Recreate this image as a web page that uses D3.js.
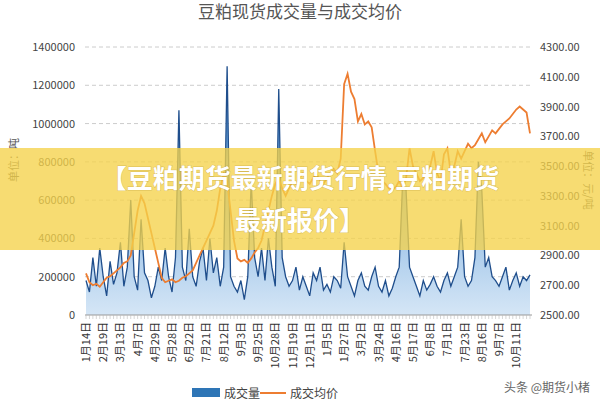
<!DOCTYPE html><html><head><meta charset="utf-8"><script src="https://cdn.jsdelivr.net/npm/d3@7/dist/d3.min.js"></script>
<style>body{margin:0;background:#fff}</style></head><body><svg id="c" width="600" height="400"></svg><script>
const dateLabels=["1月14日","2月19日","3月13日","4月7日","4月29日","5月28日","6月22日","7月21日","8月12日","9月3日","9月25日","10月28日","11月19日","12月11日","1月5日","1月27日","3月2日","3月24日","4月16日","5月17日","6月8日","7月1日","7月23日","8月16日","9月7日","10月11日"];
const volume=[180,120,300,150,350,200,100,280,160,220,380,150,250,600,200,130,500,220,180,90,150,250,180,350,200,120,300,1070,250,180,450,200,150,280,350,180,400,220,300,150,250,1300,200,150,120,180,80,200,700,300,200,350,180,400,250,150,1180,300,200,150,180,250,130,200,150,100,220,180,250,130,160,120,200,180,140,380,200,150,100,180,220,150,130,200,250,150,120,180,100,140,200,250,700,650,250,200,150,100,180,130,160,200,150,120,180,220,150,200,250,500,200,150,180,300,800,650,250,300,200,180,150,200,250,130,180,220,150,200,180,210].map(v=>v*1000);
const price=[2780,2720,2700,2710,2690,2720,2750,2760,2780,2800,2820,2850,2860,2900,3050,3200,3300,3250,3150,3050,2950,2850,2750,2720,2730,2740,2720,2730,2750,2760,2780,2800,2850,2900,2950,3000,3050,3100,3200,3350,3450,3400,3200,3000,2880,2860,2870,2850,2880,2920,2950,3000,3100,3200,3300,3380,3420,3350,3300,3350,3400,3380,3420,3450,3400,3380,3420,3450,3400,3380,3420,3450,3480,3450,3550,4050,4120,4000,3950,3800,3850,3780,3800,3760,3600,3450,3400,3380,3350,3340,3360,3400,3350,3420,3620,3500,3450,3400,3420,3450,3500,3600,3450,3400,3580,3620,3450,3500,3600,3550,3600,3650,3620,3640,3680,3720,3660,3700,3740,3720,3750,3780,3800,3820,3850,3880,3900,3880,3860,3720];
const leftTicks=[0,200000,400000,600000,800000,1000000,1200000,1400000];
const rightTicks=[2500,2700,2900,3100,3300,3500,3700,3900,4100,4300];
const svg=d3.select("#c");
const x=d3.scaleLinear().domain([0,volume.length-1]).range([86,530]);
const yL=d3.scaleLinear().domain([0,1400000]).range([315,47]);
const yR=d3.scaleLinear().domain([2500,4300]).range([315,47]);
const F="'Microsoft YaHei','Noto Sans CJK SC',sans-serif";
svg.append("text").attr("x",300).attr("y",18).attr("text-anchor","middle").attr("font-family",F).attr("font-size",17).attr("fill","#555").text("豆粕现货成交量与成交均价");
const g=svg.append("g");
g.selectAll(".gl").data(leftTicks.slice(1)).join("line").attr("x1",85).attr("x2",532).attr("y1",d=>yL(d)).attr("y2",d=>yL(d)).attr("stroke","#ccc").attr("stroke-dasharray","4,3");
g.selectAll(".lt").data(leftTicks).join("text").attr("x",75).attr("y",d=>yL(d)+4).attr("text-anchor","end").attr("font-family",F).attr("font-size",11).attr("fill","#444").text(d=>d);
g.selectAll(".rt").data(rightTicks).join("text").attr("x",540).attr("y",d=>yR(d)+4).attr("font-family",F).attr("font-size",11).attr("fill","#444").text(d=>d.toFixed(2));
const defs=svg.append("defs");const gr=defs.append("linearGradient").attr("id","gb").attr("x1",0).attr("y1",0).attr("x2",0).attr("y2",1);
gr.append("stop").attr("offset","0").attr("stop-color","#3a86d0");gr.append("stop").attr("offset","1").attr("stop-color","#d5e6f6");
g.append("path").datum(volume).attr("d",d3.area().x((d,i)=>x(i)).y0(315).y1(d=>yL(d))).attr("fill","url(#gb)");
g.append("path").datum(volume).attr("d",d3.line().x((d,i)=>x(i)).y(d=>yL(d))).attr("fill","none").attr("stroke","#1f4e8c").attr("stroke-width",1.3);
g.append("path").datum(price).attr("d",d3.line().x((d,i)=>x(i)).y(d=>yR(d))).attr("fill","none").attr("stroke","#ed7d31").attr("stroke-width",1.8);
g.append("line").attr("x1",85).attr("x2",532).attr("y1",315).attr("y2",315).attr("stroke","#999");
g.selectAll(".tk").data(d3.range(volume.length)).join("line").attr("x1",i=>x(i)).attr("x2",i=>x(i)).attr("y1",315).attr("y2",319).attr("stroke","#bbb").attr("stroke-width",0.6);
g.selectAll(".xl").data(dateLabels).join("text").attr("transform",(d,i)=>`translate(${x(i*5)+4},322) rotate(-90)`).attr("text-anchor","end").attr("font-family",F).attr("font-size",11).attr("fill","#333").text(d=>d);
svg.append("text").attr("transform","translate(18,160) rotate(-90)").attr("text-anchor","middle").attr("font-family",F).attr("font-size",11).attr("fill","#555").text("单位：吨");
svg.append("text").attr("transform","translate(584,180) rotate(90)").attr("text-anchor","middle").attr("font-family",F).attr("font-size",11).attr("fill","#555").text("单位：元/吨");
svg.append("rect").attr("x",192).attr("y",388).attr("width",28).attr("height",9).attr("fill","#2e75b6");
svg.append("text").attr("x",224).attr("y",398).attr("font-family",F).attr("font-size",12).attr("fill","#444").text("成交量");
svg.append("line").attr("x1",260).attr("x2",286).attr("y1",393).attr("y2",393).attr("stroke","#ed7d31").attr("stroke-width",2);
svg.append("text").attr("x",290).attr("y",398).attr("font-family",F).attr("font-size",12).attr("fill","#444").text("成交均价");
svg.append("text").attr("x",590).attr("y",392).attr("text-anchor","end").attr("font-family",F).attr("font-size",12).attr("fill","#666").text("头条 @期货小楮");
svg.append("rect").attr("x",0).attr("y",148).attr("width",600).attr("height",102).attr("fill","#f5d24a").attr("opacity",0.78);
const bt=[["【豆粕期货最新期货行情,豆粕期货",188],["最新报价】",230]];
svg.selectAll(".bt").data(bt).join("text").attr("x",300).attr("y",d=>d[1]).attr("text-anchor","middle").attr("font-family",F).attr("font-weight","bold").attr("font-size",26).attr("fill","#fff").attr("stroke","rgba(120,90,0,0.25)").attr("stroke-width",1).attr("paint-order","stroke").text(d=>d[0]);
</script></body></html>
